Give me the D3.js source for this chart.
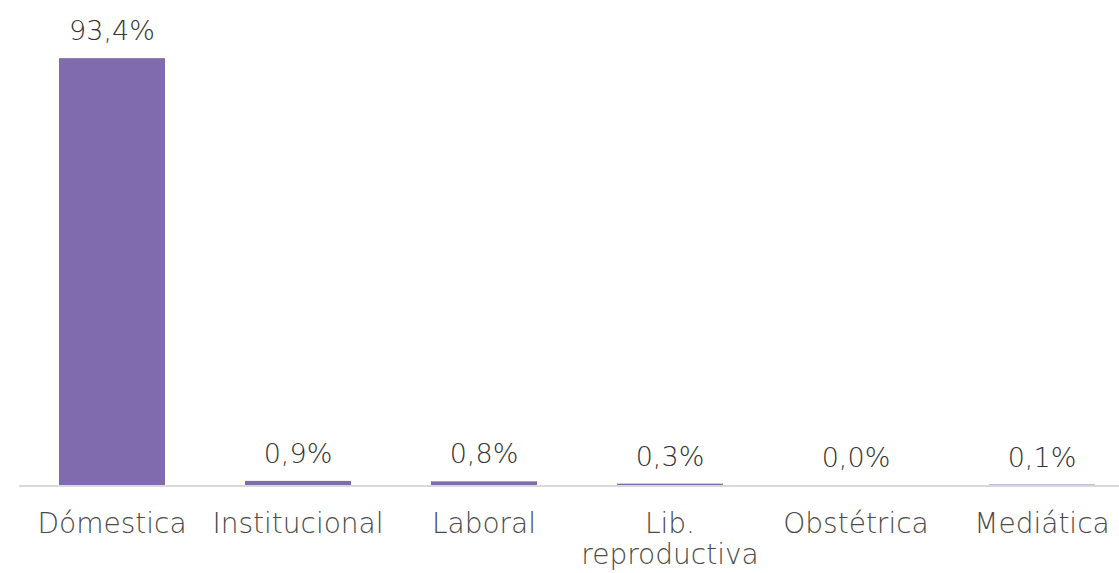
<!DOCTYPE html>
<html><head><meta charset="utf-8">
<script src="https://cdn.jsdelivr.net/npm/d3@7"></script>
<style>html,body{margin:0;padding:0;background:#fff;overflow:hidden}</style>
</head><body>
<svg id="c" width="1119" height="573"></svg>
<script>
const categories = ["Dómestica", "Institucional", "Laboral", "Lib. reproductiva", "Obstétrica", "Mediática"];
const values = [93.4, 0.9, 0.8, 0.3, 0.0, 0.1];
const valueLabels = ["93,4%", "0,9%", "0,8%", "0,3%", "0,0%", "0,1%"];
const categoryLines = [["Dómestica"], ["Institucional"], ["Laboral"], ["Lib.", "reproductiva"], ["Obstétrica"], ["Mediática"]];

const svg = d3.select("#c");
const font = "'DejaVu Sans', sans-serif";
const x = d3.scaleBand().domain(categories).range([19, 1135]).paddingInner(0.43).paddingOuter(0.215);
const y = d3.scaleLinear().domain([0, 100]).range([485, 28]);

svg.append("g").selectAll("rect").data(values).join("rect")
  .attr("x", (d, i) => x(categories[i]))
  .attr("width", x.bandwidth())
  .attr("y", d => y(d))
  .attr("height", d => y(0) - y(d))
  .attr("fill", "#7f6bae");

svg.append("line").attr("x1", 19).attr("x2", 1119).attr("y1", 486).attr("y2", 486)
  .attr("stroke", "#d9d9d9").attr("stroke-width", 2);

svg.append("g").selectAll("text").data(values).join("text")
  .attr("x", (d, i) => x(categories[i]) + x.bandwidth() / 2)
  .attr("y", d => y(d) - 18)
  .attr("text-anchor", "middle")
  .attr("font-family", font).attr("font-weight", 300).attr("font-size", 27).attr("fill", "#333333")
  .text((d, i) => valueLabels[i]);

const cg = svg.append("g").selectAll("text").data(categories).join("text")
  .attr("x", d => x(d) + x.bandwidth() / 2)
  .attr("y", 533)
  .attr("text-anchor", "middle")
  .attr("font-family", font).attr("font-weight", 300).attr("font-size", 28).attr("fill", "#4a4a4a");
cg.each(function(d, i) {
  const t = d3.select(this);
  categoryLines[i].forEach((ln, j) => {
    t.append("tspan").attr("x", x(d) + x.bandwidth() / 2).attr("dy", j === 0 ? 0 : 31).text(ln);
  });
});
</script>
</body></html>
